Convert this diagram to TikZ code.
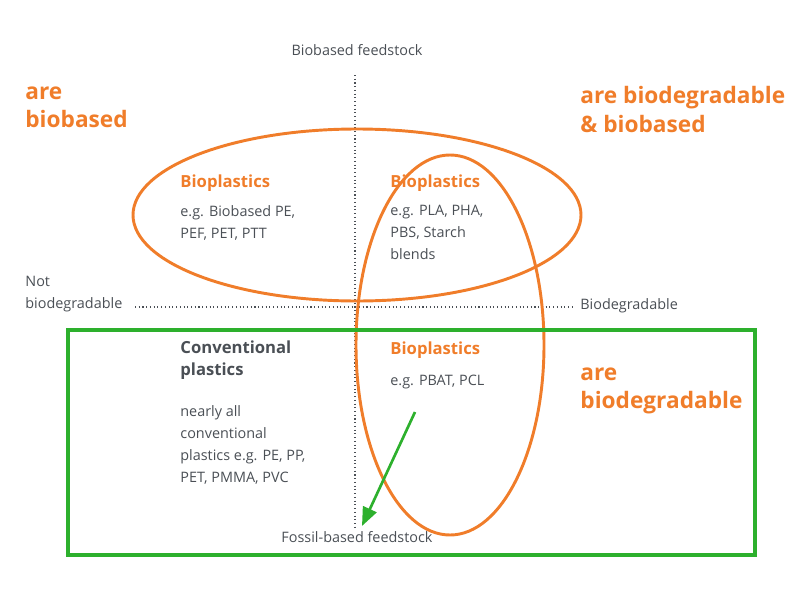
\documentclass[tikz,border=0pt]{standalone}
\usepackage{fontspec}
\setmainfont{Open Sans}
\usetikzlibrary{arrows.meta,positioning,shapes}
\definecolor{bioorange}{HTML}{F07D2A}
\definecolor{boxgreen}{HTML}{2DB02D}
\definecolor{txtgrey}{HTML}{4A4F55}
\begin{document}
\begin{tikzpicture}[
            x = 0.75pt, y = -0.75pt, % pixel grid
            > = {Triangle[length=14pt,width=11pt]},
            semithick
        ]

        \tikzstyle{body}=[
            anchor = north west,
            align = left,
            inner sep = 0pt,
            text = txtgrey,
            font = \fontsize{10.8}{16.5}\selectfont
        ]
        \tikzstyle{head}=[
            body,
            font = \fontsize{12.5}{16.5}\selectfont\bfseries,
            text = bioorange
        ]
        \tikzstyle{claim}=[
            body,
            font = \fontsize{17}{21.5}\selectfont\bfseries,
            text = bioorange
        ]
        \tikzstyle{loop}=[
            draw = bioorange,
            line width = 2.2pt
        ]

        \useasboundingbox (0,0) rectangle (800,600);

        % axes
        \node[body,anchor=center] (top) at (357,50) {Biobased feedstock};
        \node[body,anchor=center] (bot) at (357,537) {Fossil-based feedstock};
        \node[body] (left) at (25,276) {Not\\biodegradable};
        \node[body] (right) at (580,298) {Biodegradable};
        \draw[dotted,thick,txtgrey] (355,75) -- (355,528);
        \draw[dotted,thick,txtgrey] (135,307) -- (575,307);

        % circles
        \draw[loop] (357,215) ellipse [x radius=224, y radius=86];
        \draw[loop] (450,345) ellipse [x radius=94, y radius=190];
        \draw[boxgreen,line width=3pt] (68,330) rectangle (755,555);

        % claims
        \node[claim] (c1) at (25,86) {are\\biobased};
        \node[claim] (c2) at (580,86) {are biodegradable\\\& biobased};
        \node[claim] (c3) at (580,367) {are\\biodegradable};

        % quadrants
        \node[head] (b1) at (180,174) {Bioplastics};
        \node[body] (e1) [below=10pt of b1.south west,anchor=north west] {e.g. Biobased PE,\\PEF, PET, PTT};
        \node[head] (b2) at (390,174) {Bioplastics};
        \node[body] (e2) [below=10pt of b2.south west,anchor=north west] {e.g. PLA, PHA,\\PBS, Starch\\blends};
        \node[head,text=txtgrey] (b3) at (180,340) {Conventional\\plastics};
        \node[body] (e3) at (180,405) {nearly all\\conventional\\plastics e.g. PE, PP,\\PET, PMMA, PVC};
        \node[head] (b4) at (390,341) {Bioplastics};
        \node[body] (e4) [below=12pt of b4.south west,anchor=north west] {e.g. PBAT, PCL};

        \coordinate (tip) at (362,526);
        \draw[->,boxgreen,line width=2pt] (415,412) -- (tip);

    \end{tikzpicture}
\end{document}
